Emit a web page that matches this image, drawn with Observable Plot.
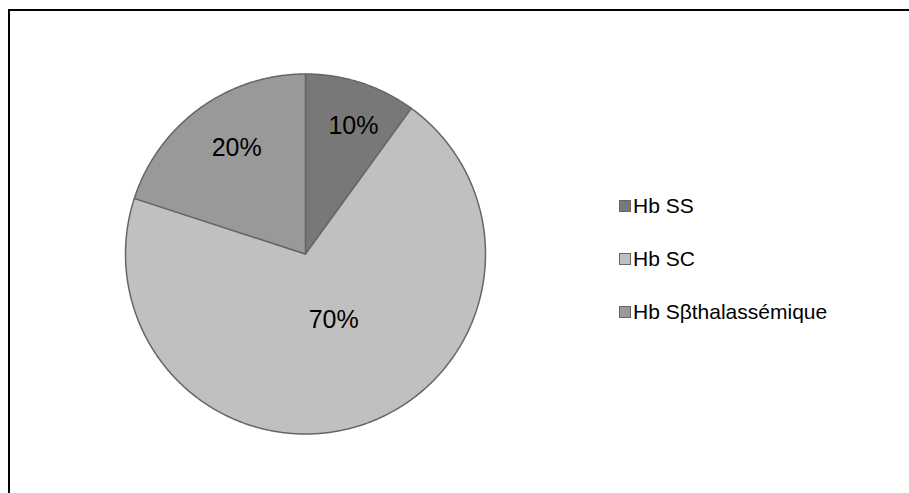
<!DOCTYPE html>
<html><head><meta charset="utf-8">
<script src="https://cdn.jsdelivr.net/npm/d3@7"></script>
<script src="https://cdn.jsdelivr.net/npm/@observablehq/plot@0.6"></script>
<style>
body{margin:0;background:#fff;font-family:"Liberation Sans",Arial,sans-serif;overflow:hidden;}
#wrap{position:relative;width:909px;height:493px;overflow:hidden;}
#hline{position:absolute;left:8px;top:9px;width:960px;height:2px;background:#000;}
#vline{position:absolute;left:8px;top:9px;width:2px;height:560px;background:#000;}
#chart{position:absolute;left:0;top:0;}
#legend{position:absolute;left:619px;top:194px;}
.item{position:relative;height:53px;font-size:21px;color:#000;}
.sw{position:absolute;left:0;top:6px;width:10px;height:10px;border:1px solid #666;}
.lb{position:absolute;left:14px;top:0;white-space:nowrap;line-height:24px;}
</style></head>
<body>
<div id="wrap"><div id="hline"></div><div id="vline"></div><div id="chart"></div><div id="legend"></div></div>
<script>
const categories = ["Hb SS", "Hb SC", "Hb Sβthalassémique"];
const values = [10, 70, 20];
const labels = ["10%", "70%", "20%"];
const colors = ["#787878", "#c0c0c0", "#999999"];
const labelRadius = [0.76, 0.40, 0.70];
const labelAngleFrac = [0.57, 0.48, 0.54];

const total = d3.sum(values);
let acc = 0;
const slices = categories.map((c, i) => {
  const a0 = acc / total * 2 * Math.PI;
  acc += values[i];
  const a1 = acc / total * 2 * Math.PI;
  return {cat: c, a0, a1, color: colors[i], label: labels[i], lr: labelRadius[i], lf: labelAngleFrac[i]};
});

function slicePoints(s) {
  const pts = [{x: 0, y: 0}];
  const n = Math.max(2, Math.ceil((s.a1 - s.a0) / (Math.PI / 360)));
  for (let k = 0; k <= n; k++) {
    const a = s.a0 + (s.a1 - s.a0) * k / n;
    pts.push({x: Math.sin(a), y: Math.cos(a)});
  }
  pts.push({x: 0, y: 0});
  return pts;
}

const labelData = slices.map(s => {
  const m = s.a0 + (s.a1 - s.a0) * s.lf;
  return {x: s.lr * Math.sin(m), y: s.lr * Math.cos(m), t: s.label};
});

const cx = 305, cy = 253.5, r = 180;
const plot = Plot.plot({
  width: 909,
  height: 493,
  x: {domain: [-1, 1], range: [cx - r, cx + r]},
  y: {domain: [-1, 1], range: [cy + r, cy - r]},
  axis: null,
  style: {background: "transparent", fontFamily: "Liberation Sans, Arial, sans-serif"},
  marks: [
    ...slices.map(s => Plot.line(slicePoints(s), {x: "x", y: "y", fill: s.color, stroke: "#666666", strokeWidth: 1.5, strokeLinejoin: "round", curve: "linear"})),
    Plot.text(labelData, {x: "x", y: "y", text: "t", fontSize: 25, fill: "#000"})
  ]
});
document.getElementById("chart").appendChild(plot);

const leg = document.getElementById("legend");
categories.forEach((c, i) => {
  const it = document.createElement("div");
  it.className = "item";
  it.innerHTML = `<div class="sw" style="background:${colors[i]}"></div><div class="lb"></div>`;
  it.querySelector(".lb").textContent = c;
  leg.appendChild(it);
});
</script>
</body></html>
